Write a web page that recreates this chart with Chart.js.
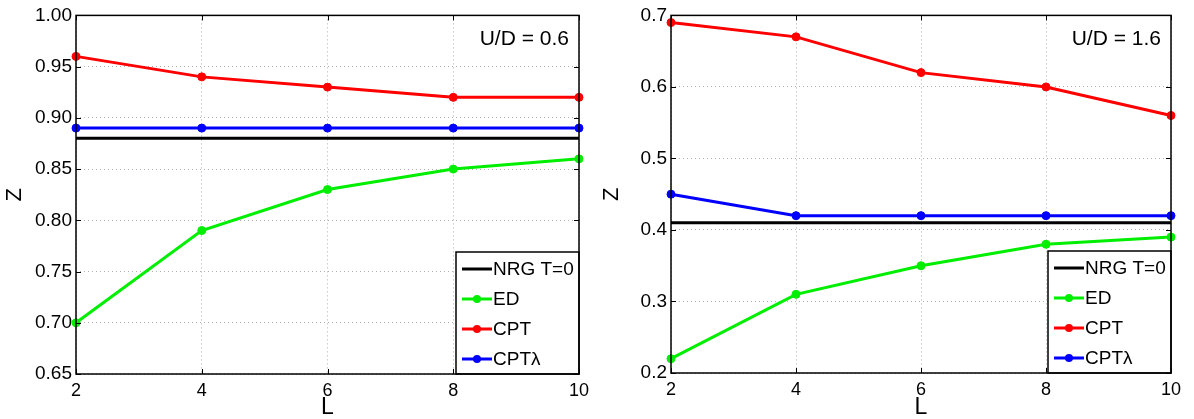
<!DOCTYPE html>
<html>
<head>
<meta charset="utf-8">
<script src="https://cdn.jsdelivr.net/npm/chart.js@4.4.1/dist/chart.umd.min.js"></script>
<style>
  html, body { margin: 0; padding: 0; background: #fff; }
  body { width: 1194px; height: 419px; position: relative; overflow: hidden; }
  .panel { position: absolute; top: 0; width: 597px; height: 419px; }
  #p1 { left: 0; }
  #p2 { left: 597px; }
</style>
</head>
<body>
<div class="panel" id="p1"><canvas id="c1"></canvas></div>
<div class="panel" id="p2"><canvas id="c2"></canvas></div>
<script>
// System sizes L on the horizontal axis
const sizesL = [2, 4, 6, 8, 10];
const seriesNames = ['NRG T=0', 'ED', 'CPT', 'CPT\u03bb'];

// U/D = 0.6
const nrgLow = [0.88, 0.88, 0.88, 0.88, 0.88];
const edLow = [0.70, 0.79, 0.83, 0.85, 0.86];
const cptLow = [0.96, 0.94, 0.93, 0.92, 0.92];
const cptLambdaLow = [0.89, 0.89, 0.89, 0.89, 0.89];
const yTicksLow = [0.65, 0.70, 0.75, 0.80, 0.85, 0.90, 0.95, 1.00];

// U/D = 1.6
const nrgHigh = [0.41, 0.41, 0.41, 0.41, 0.41];
const edHigh = [0.22, 0.31, 0.35, 0.38, 0.39];
const cptHigh = [0.69, 0.67, 0.62, 0.60, 0.56];
const cptLambdaHigh = [0.45, 0.42, 0.42, 0.42, 0.42];
const yTicksHigh = [0.2, 0.3, 0.4, 0.5, 0.6, 0.7];

const FONT = '"Liberation Sans", Arial, Helvetica, sans-serif';
const colors = ['#000000', '#00ee00', '#ff0000', '#0000ff'];

function pts(vals) {
  return sizesL.map((l, i) => ({ x: l, y: vals[i] }));
}

// Box frame, inward tick marks, in-plot legend and annotation
const decorPlugin = {
  id: 'decor',
  afterDatasetsDraw(chart, args, opts) {
    const ctx = chart.ctx;
    const a = chart.chartArea;
    const xs = chart.scales.x, ys = chart.scales.y;
    ctx.save();
    // inward ticks on all four sides
    ctx.strokeStyle = '#000';
    ctx.lineWidth = 1;
    const tl = 5;
    xs.ticks.forEach((t) => {
      const px = Math.round(xs.getPixelForValue(t.value)) + 0.5;
      ctx.beginPath();
      ctx.moveTo(px, a.bottom); ctx.lineTo(px, a.bottom - tl);
      ctx.moveTo(px, a.top); ctx.lineTo(px, a.top + tl);
      ctx.stroke();
    });
    ys.ticks.forEach((t) => {
      const py = Math.round(ys.getPixelForValue(t.value)) + 0.5;
      ctx.beginPath();
      ctx.moveTo(a.left, py); ctx.lineTo(a.left + tl, py);
      ctx.moveTo(a.right, py); ctx.lineTo(a.right - tl, py);
      ctx.stroke();
    });

    // annotation text
    ctx.fillStyle = '#000';
    ctx.font = '21px ' + FONT;
    ctx.textAlign = 'right';
    ctx.textBaseline = 'middle';
    ctx.fillText(opts.note, a.right - 10, a.top + 24);

    // legend box in the lower right corner
    const bw = 123, bh = 122;
    const bx = a.right - bw, by = a.bottom - bh;
    ctx.fillStyle = '#fff';
    ctx.fillRect(bx, by, bw, bh);
    ctx.strokeStyle = '#000';
    ctx.lineWidth = 1.5;
    ctx.strokeRect(bx, by, bw, bh);
    chart.data.datasets.forEach((ds, i) => {
      const cy = by + 17 + i * 30;
      ctx.strokeStyle = ds.borderColor;
      ctx.lineWidth = 3;
      ctx.beginPath();
      ctx.moveTo(bx + 6, cy); ctx.lineTo(bx + 36, cy);
      ctx.stroke();
      if (ds.pointRadius > 0) {
        ctx.fillStyle = ds.borderColor;
        ctx.beginPath();
        ctx.arc(bx + 21, cy, 4, 0, Math.PI * 2);
        ctx.fill();
      }
      ctx.fillStyle = '#000';
      ctx.font = '19px ' + FONT;
      ctx.textAlign = 'left';
      ctx.textBaseline = 'middle';
      ctx.fillText(ds.label, bx + 37, cy + 1);
    });

    // frame
    ctx.strokeStyle = '#000';
    ctx.lineWidth = 1.5;
    ctx.strokeRect(a.left, a.top, a.right - a.left, a.bottom - a.top);
    ctx.restore();
  }
};

function makeChart(id, series, yTicks, decimals, note, area) {
  const datasets = series.map((vals, i) => ({
    label: seriesNames[i],
    data: pts(vals),
    borderColor: colors[i],
    backgroundColor: colors[i],
    borderWidth: 3,
    pointRadius: i === 0 ? 0 : 4,
    pointBorderWidth: 1,
    pointHoverRadius: i === 0 ? 0 : 4,
    tension: 0,
    clip: 6
  }));
  return new Chart(document.getElementById(id), {
    type: 'line',
    data: { datasets },
    options: {
      responsive: true,
      maintainAspectRatio: false,
      animation: false,
      events: [],
      layout: { padding: { top: area.top, right: area.right, bottom: 0, left: 0 } },
      plugins: {
        legend: { display: false },
        tooltip: { enabled: false },
        decor: { note }
      },
      scales: {
        x: {
          type: 'linear',
          min: sizesL[0],
          max: sizesL[sizesL.length - 1],
          afterBuildTicks: (s) => { s.ticks = sizesL.map((v) => ({ value: v })); },
          afterFit: (s) => { s.height = area.xHeight; },
          grid: { color: '#b0b0b0', drawTicks: false, lineWidth: 1 },
          border: { display: false, dash: [1, 3] },
          ticks: { color: '#000', font: { family: FONT, size: 18 }, padding: 6, maxRotation: 0 },
          title: { display: true, text: 'L', color: '#000', font: { family: FONT, size: 23, lineHeight: 1 }, padding: 0 }
        },
        y: {
          type: 'linear',
          min: yTicks[0],
          max: yTicks[yTicks.length - 1],
          afterBuildTicks: (s) => { s.ticks = yTicks.map((v) => ({ value: v })); },
          afterFit: (s) => { s.width = area.left; },
          grid: { color: '#b0b0b0', drawTicks: false, lineWidth: 1 },
          border: { display: false, dash: [1, 3] },
          ticks: {
            color: '#000', font: { family: FONT, size: 19 }, padding: 4,
            callback: (v) => Number(v).toFixed(decimals)
          },
          title: { display: true, text: 'Z', color: '#000', font: { family: FONT, size: 22, lineHeight: 1 }, padding: { top: 4, bottom: 0 } }
        }
      }
    },
    plugins: [decorPlugin]
  });
}

makeChart('c1', [nrgLow, edLow, cptLow, cptLambdaLow], yTicksLow, 2, 'U/D = 0.6',
  { top: 15, right: 18, left: 76, xHeight: 45 });
makeChart('c2', [nrgHigh, edHigh, cptHigh, cptLambdaHigh], yTicksHigh, 1, 'U/D = 1.6',
  { top: 14, right: 23, left: 74, xHeight: 46 });
</script>
</body>
</html>
